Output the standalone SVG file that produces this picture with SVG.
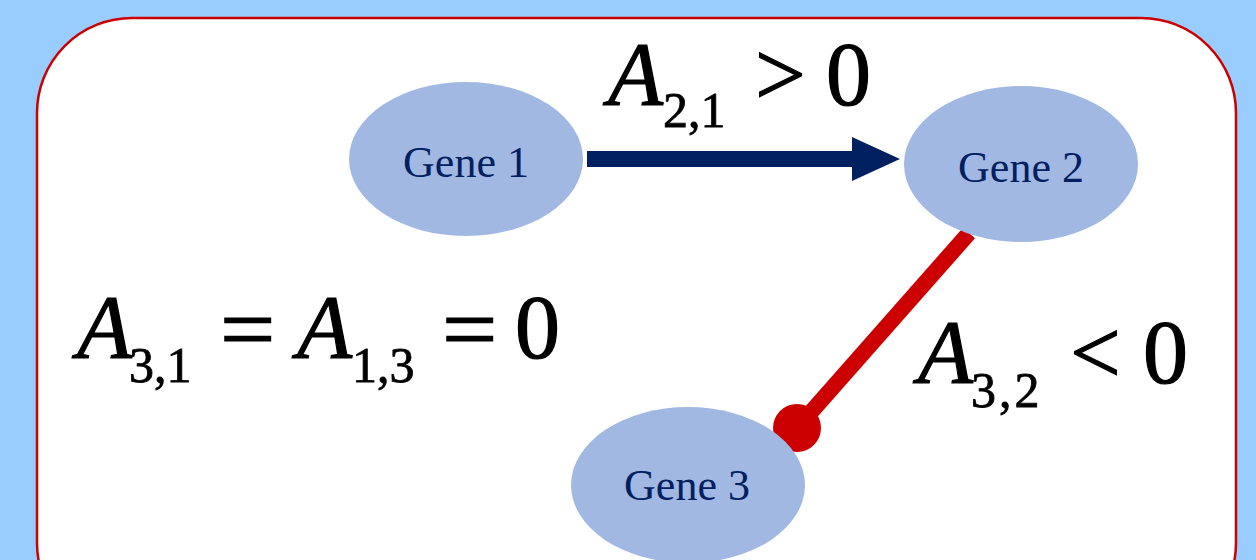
<svg xmlns="http://www.w3.org/2000/svg" width="1256" height="560" viewBox="0 0 1256 560">
  <style>
    .node { fill: #A0B8E2; }
    .lbl { font-family: "Liberation Serif", "Times New Roman", serif; font-size: 44px; fill: #002060; text-anchor: middle; }
    .m { font-family: "Liberation Serif", "Times New Roman", serif; fill: #000000; stroke: #000000; stroke-width: 1.2px; }
    .big { font-size: 90px; }
    .it { font-style: italic; }
    .sub { font-size: 50px; stroke-width: 0.8px; }
  </style>
  <rect x="0" y="0" width="1256" height="560" fill="#99CCFF"/>
  <rect x="37" y="18" width="1199" height="620" rx="95" ry="95" fill="#FFFFFF" stroke="#CC0000" stroke-width="2.5"/>

  <g id="connectors">
    <g id="edge-1-2">
      <rect x="587" y="151" width="267" height="16" fill="#002060"/>
      <polygon points="852,137 900,159 852,181" fill="#002060"/>
    </g>
    <g id="edge-2-3">
      <line x1="969" y1="233" x2="797" y2="428" stroke="#CC0000" stroke-width="16"/>
      <circle cx="797" cy="428" r="24" fill="#CC0000"/>
    </g>
  </g>

  <g id="gene1">
    <ellipse class="node" cx="466" cy="159" rx="117" ry="77"/>
    <text class="lbl" x="466" y="177">Gene 1</text>
  </g>
  <g id="gene2">
    <ellipse class="node" cx="1021" cy="164" rx="117" ry="78"/>
    <text class="lbl" x="1021" y="182">Gene 2</text>
  </g>
  <g id="gene3">
    <ellipse class="node" cx="688" cy="485" rx="117" ry="78"/>
    <text class="lbl" x="687" y="500">Gene 3</text>
  </g>

  <g id="label-a21">
    <text class="m big it" x="608" y="105">A</text>
    <text class="m sub" x="663" y="127">2,1</text>
    <text class="m big" x="755" y="105">&gt;</text>
    <text class="m big" x="826" y="105">0</text>
  </g>
  <g id="label-a31">
    <text class="m big it" x="77" y="358">A</text>
    <text class="m sub" x="129" y="382">3,1</text>
    <text class="m big" transform="translate(220,360) scale(1.09,1)" x="0" y="0">=</text>
    <text class="m big it" x="297" y="358">A</text>
    <text class="m sub" x="352" y="382">1,3</text>
    <text class="m big" transform="translate(442,360) scale(1.09,1)" x="0" y="0">=</text>
    <text class="m big" x="515" y="358">0</text>
  </g>
  <g id="label-a32">
    <text class="m big it" x="918" y="383">A</text>
    <text class="m sub" x="971" y="407" letter-spacing="3">3,2</text>
    <text class="m big" x="1070" y="383">&lt;</text>
    <text class="m big" x="1143" y="383">0</text>
  </g>
</svg>
